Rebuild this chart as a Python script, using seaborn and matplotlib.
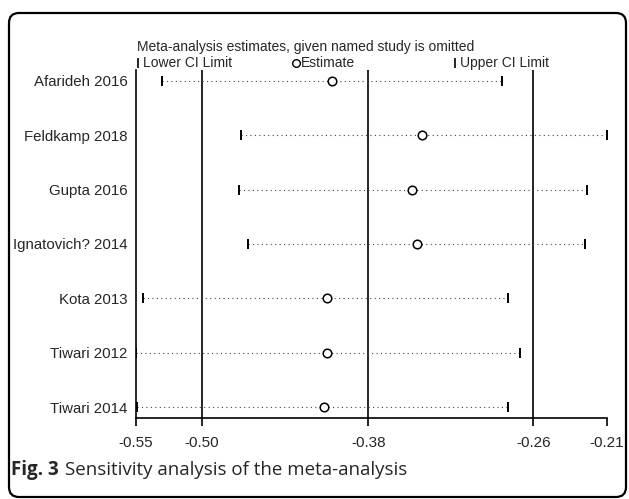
import matplotlib
matplotlib.use("Agg")
import matplotlib.pyplot as plt
from matplotlib.patches import FancyBboxPatch
from matplotlib.lines import Line2D
import numpy as np
import pandas as pd
import seaborn as sns

studies = ["Afarideh 2016", "Feldkamp 2018", "Gupta 2016", "Ignatovich? 2014",
           "Kota 2013", "Tiwari 2012", "Tiwari 2014"]
estimate = [-0.4071, -0.3420, -0.3492, -0.3458, -0.4109, -0.4105, -0.4128]
lower = [-0.5296, -0.4729, -0.4739, -0.4674, -0.5431, -0.5484, -0.5475]
upper = [-0.2843, -0.2091, -0.2235, -0.2245, -0.2800, -0.2716, -0.2800]
overall = [-0.501, -0.381, -0.262]  # full-sample lower CI, estimate, upper CI

title_text = "Meta-analysis estimates, given named study is omitted"
legend_labels = ["Lower CI Limit", "Estimate", "Upper CI Limit"]
caption_bold = "Fig. 3"
caption_text = "Sensitivity analysis of the meta-analysis"

sns.set_style("white")
plt.rcParams["font.family"] = ["Liberation Sans", "DejaVu Sans"]

df = pd.DataFrame({"study": studies, "estimate": estimate,
                   "lower": lower, "upper": upper})
df["pos"] = np.arange(1, len(df) + 1)

W, H = 629, 499
fig = plt.figure(figsize=(W / 100, H / 100), dpi=100)
ax = fig.add_axes([136 / W, 1 - 418 / H, (606.7 - 136) / W, (418 - 70) / H])

# dotted CI lines
ax.hlines(df["pos"], df["lower"], df["upper"], colors="#444444",
          linestyles=(0, (1, 3)), linewidth=0.8, zorder=2)

# reference lines at full-sample values
for v in overall:
    ax.axvline(v, color="black", lw=1.2, zorder=1)

sns.scatterplot(data=df, x="lower", y="pos", marker="|", s=60,
                linewidth=1.4, color="black", ax=ax, zorder=3, legend=False)
sns.scatterplot(data=df, x="upper", y="pos", marker="|", s=60,
                linewidth=1.4, color="black", ax=ax, zorder=3, legend=False)
sns.scatterplot(data=df, x="estimate", y="pos", marker="o", s=38,
                facecolor="white", edgecolor="black", linewidth=1.1,
                ax=ax, zorder=4, legend=False)

xmin, xmax = min(lower), max(upper)
ticks = [xmin] + overall + [xmax]
ax.set_xlim(xmin, xmax)
ax.set_ylim(len(df) + 0.2, 0.8)
ax.set_xticks(ticks)
ax.set_xticklabels([f"{t:.2f}" for t in ticks])
ax.set_yticks(df["pos"])
ax.set_yticklabels(df["study"])
ax.set_xlabel("")
ax.set_ylabel("")
ax.tick_params(axis="x", direction="out", length=6, width=1.2, pad=7,
               labelsize=11, color="black", bottom=True)
ax.tick_params(axis="y", length=0, pad=6, labelsize=10.8)
for s in ["top", "right"]:
    ax.spines[s].set_visible(False)
for s in ["left", "bottom"]:
    ax.spines[s].set_color("black")
    ax.spines[s].set_linewidth(1.2)
ax.set_facecolor("white")

# title and legend row
fig.text(137 / W, 1 - 47 / H, title_text, fontsize=10, va="center", ha="left")
leg_y = 1 - 63 / H
leg_marks = ["|", "o", "|"]
leg_x = [138, 296, 455]
for m, xp, lab in zip(leg_marks, leg_x, legend_labels):
    if m == "o":
        fig.add_artist(Line2D([xp / W], [leg_y], marker="o", markersize=5.5,
                              markerfacecolor="white", markeredgecolor="black",
                              markeredgewidth=1.0, transform=fig.transFigure))
    else:
        fig.add_artist(Line2D([xp / W], [leg_y], marker="|", markersize=7,
                              markeredgewidth=1.2, color="black",
                              transform=fig.transFigure))
    fig.text((xp + 5) / W, leg_y, lab, fontsize=10, va="center", ha="left")

# caption
fig.text(11 / W, 1 - 470 / H, caption_bold, fontsize=13.5, fontweight="bold",
         family=["Open Sans", "DejaVu Sans"], va="center", ha="left")
fig.text(65 / W, 1 - 470 / H, caption_text, fontsize=13.5,
         family=["Open Sans", "DejaVu Sans"], va="center", ha="left")

# rounded frame
frame = FancyBboxPatch((9, 2), 617, H - 13 - 2,
                       boxstyle="round,pad=0,rounding_size=10",
                       transform=None, fill=False, lw=1.6, edgecolor="black")
fig.add_artist(frame)

fig.savefig("out.png", dpi=100, facecolor="white")
